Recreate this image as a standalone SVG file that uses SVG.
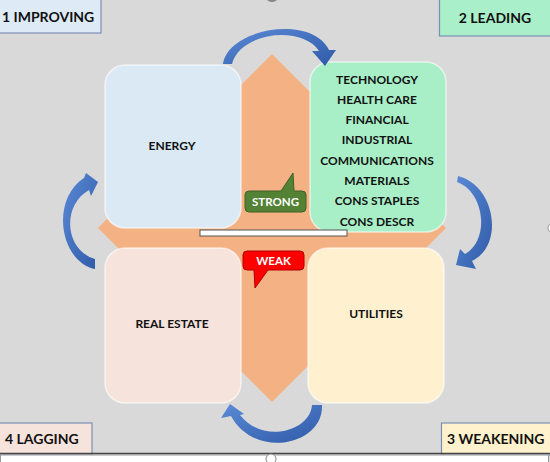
<svg xmlns="http://www.w3.org/2000/svg" width="550" height="462" viewBox="0 0 550 462">
<defs>
<linearGradient id="arrowGrad" x1="0" y1="0" x2="1" y2="1">
<stop offset="0" stop-color="#5b8ad6"/>
<stop offset="1" stop-color="#2f5aa8"/>
</linearGradient>
<style>
.t{font-family:Lato,"Liberation Sans",Arial,sans-serif;font-weight:bold;fill:#111;text-anchor:middle}
.box{stroke:#ffffff;stroke-opacity:0.6;stroke-width:1.5}
.lbl{stroke:#7b8fb3;stroke-width:1.2}
.lt{font-family:Lato,"Liberation Sans",Arial,sans-serif;font-weight:bold;font-size:14px;fill:#111}
.arrow{fill:url(#arrowGrad)}
.ct{font-family:Lato,"Liberation Sans",Arial,sans-serif;font-weight:bold;font-size:11.5px;fill:#fff;text-anchor:middle}
</style>
</defs>
<rect x="0" y="0" width="550" height="462" fill="#d9d9d9"/>
<polygon id="diamond" points="272,54 446,228 272,402 98,228" fill="#f4b183"/>

<g id="energy">
<rect class="box" x="105" y="65" width="136" height="163" rx="20" fill="#dbe9f5"/>
<text class="t" x="172" y="150" font-size="12">ENERGY</text>
</g>
<g id="leading-sectors">
<rect class="box" x="310" y="62" width="136" height="170" rx="20" fill="#a8efc8"/>
<g class="t" font-size="12">
<text x="377" y="83.5">TECHNOLOGY</text>
<text x="377" y="103.8">HEALTH CARE</text>
<text x="377" y="124.1">FINANCIAL</text>
<text x="377" y="144.4">INDUSTRIAL</text>
<text x="377" y="164.7">COMMUNICATIONS</text>
<text x="377" y="185">MATERIALS</text>
<text x="377" y="205.3">CONS STAPLES</text>
<text x="377" y="225.6">CONS DESCR</text>
</g>
</g>
<g id="real-estate">
<rect class="box" x="105" y="248" width="136" height="155" rx="20" fill="#f6e3dc"/>
<text class="t" x="172" y="328" font-size="12">REAL ESTATE</text>
</g>
<g id="utilities">
<rect class="box" x="308" y="248" width="136" height="155" rx="20" fill="#fff1cf"/>
<text class="t" x="376" y="318" font-size="12">UTILITIES</text>
</g>

<g id="bar">
<rect x="200" y="230" width="147" height="6" fill="#ffffff" stroke="#555" stroke-width="1"/>
</g>

<g id="strong">
<path d="M 249 191 L 281 191 L 293 173 L 294 191 L 302 191 Q 306 191 306 195 L 306 208 Q 306 212 302 212 L 249 212 Q 245 212 245 208 L 245 195 Q 245 191 249 191 Z" fill="#548235" stroke="#3d6127" stroke-width="1"/>
<text class="ct" x="275.5" y="205.5">STRONG</text>
</g>
<g id="weak">
<path d="M 247 251 L 300 251 Q 304 251 304 255 L 304 266 Q 304 270 300 270 L 268 270 L 255 288 L 254 270 L 247 270 Q 243 270 243 266 L 243 255 Q 243 251 247 251 Z" fill="#ff0000" stroke="#b00000" stroke-width="1"/>
<text class="ct" x="273.5" y="265">WEAK</text>
</g>

<g id="label-improving">
<rect class="lbl" x="-1" y="-1" width="102" height="34" fill="#deebf7"/>
<text class="lt" x="2" y="21.5">1 IMPROVING</text>
</g>
<g id="label-leading">
<rect class="lbl" x="439.5" y="-1" width="112" height="37" fill="#a9efc9"/>
<text class="lt" x="495" y="22.5" text-anchor="middle">2 LEADING</text>
</g>
<g id="label-lagging">
<rect class="lbl" x="-1" y="423" width="93" height="32" fill="#f6e3dc"/>
<text class="lt" x="5" y="444">4 LAGGING</text>
</g>
<g id="label-weakening">
<rect class="lbl" x="441.5" y="423" width="110" height="32" fill="#fff2cc"/>
<text class="lt" x="447" y="444">3 WEAKENING</text>
</g>

<g id="connectors">
<path class="arrow" d="M 223 64 C 228 28, 312 14, 329 50 L 336 50 L 325 66 L 312 51 L 319 51 C 302 25, 240 32, 232 64 Z"/>
<path class="arrow" d="M 458 176 C 495 185, 505 245, 472 261 L 476 269 L 456 265 L 460 249 L 465 254 C 490 240, 485 192, 457 182 Z"/>
<path class="arrow" d="M 322 405 C 324 445, 255 460, 231 416 L 221 418 L 230 404 L 244 414 L 240 415 C 262 444, 310 432, 312 405 Z"/>
<path class="arrow" d="M 95 269 C 60 262, 50 200, 84 178 L 86 173 L 98 182 L 91 196 L 89 190 C 62 205, 64 250, 95 259 Z"/>
</g>

<g id="frame">
<line x1="0" y1="453.5" x2="550" y2="453.5" stroke="#444" stroke-width="1.5"/>
<rect x="0.5" y="455" width="548" height="8" fill="#ffffff" stroke="#999" stroke-width="1"/>
<circle cx="271" cy="459" r="5" fill="#ffffff" stroke="#888" stroke-width="1"/>
<circle cx="553" cy="228" r="5" fill="#ffffff" stroke="#999" stroke-width="1"/>
<ellipse cx="272" cy="-1" rx="5" ry="3" fill="#888"/>
</g>
</svg>
